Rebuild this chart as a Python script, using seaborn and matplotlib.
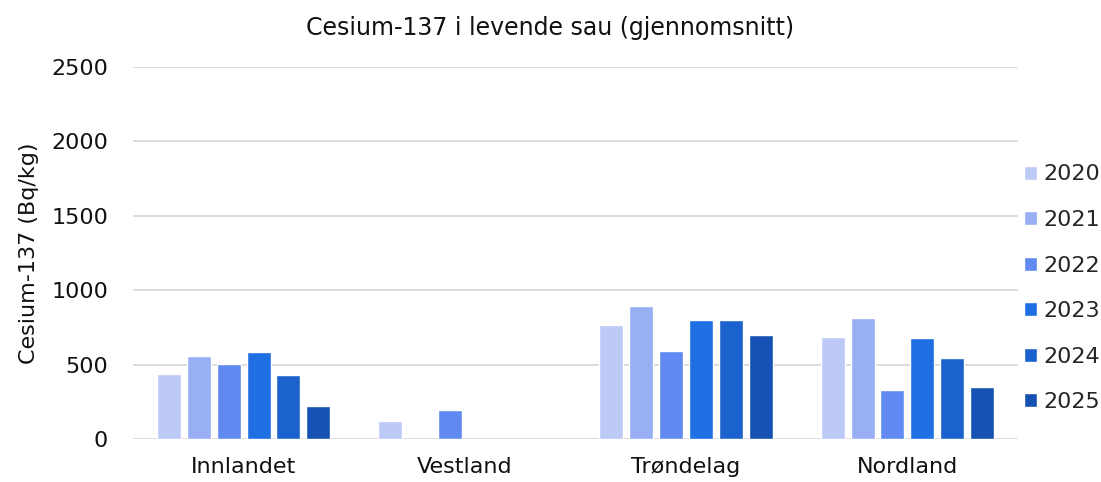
import numpy as np
import pandas as pd
import matplotlib.pyplot as plt
import seaborn as sns

regions = ["Innlandet", "Vestland", "Trøndelag", "Nordland"]
years = ["2020", "2021", "2022", "2023", "2024", "2025"]

# Cs-137 values per year, one value per region (nan = no data)
v2020 = [437, 119, 764, 683]
v2021 = [560, np.nan, 894, 815]
v2022 = [502, 193, 591, 331]
v2023 = [587, np.nan, 800, 681]
v2024 = [432, np.nan, 800, 546]
v2025 = [220, np.nan, 699, 347]

colors = ["#BDC9F7", "#98AEF5", "#608AF1", "#1F6FE3", "#1B62CC", "#1652B3"]


def buildFrame():
    rows = []
    for year, vals in zip(years, [v2020, v2021, v2022, v2023, v2024, v2025]):
        for region, val in zip(regions, vals):
            if not np.isnan(val):
                rows.append({"region": region, "year": year, "value": val})
    return pd.DataFrame(rows)


sns.set_theme(style="white")
plt.rcParams["font.family"] = ["DejaVu Sans"]

df = buildFrame()
fig = plt.figure(figsize=(11.01, 4.82), dpi=100)
ax = fig.add_axes([0.1208, 0.0892, 0.8038, 0.7718])

sns.barplot(
    data=df, x="region", y="value", hue="year",
    order=regions, hue_order=years, palette=colors,
    width=0.81, gap=0.2, ax=ax, errorbar=None, saturation=1,
)

ax.set_xlim(-0.5, 3.5)
ax.set_ylim(0, 2500)
ax.set_yticks(range(0, 2501, 500))
ax.yaxis.grid(True, color="#D9D9D9", linewidth=1.3)
ax.set_axisbelow(True)
for s in ax.spines.values():
    s.set_visible(False)
ax.tick_params(axis="both", length=0, labelsize=16, colors="#111111")
ax.tick_params(axis="y", pad=18)
ax.tick_params(axis="x", pad=13)
ax.set_xlabel("")
ax.set_ylabel("Cesium-137 (Bq/kg)", fontsize=16, color="#111111", labelpad=9)
fig.suptitle("Cesium-137 i levende sau (gjennomsnitt)", x=0.5, y=0.967,
             fontsize=17, color="#111111")

ax.legend(
    loc="center left", bbox_to_anchor=(1.0, 0.405), frameon=False,
    fontsize=16, handlelength=0.6, handleheight=0.6, handletextpad=0.3,
    labelspacing=1.15, borderaxespad=0.0, borderpad=0.25,
)

fig.savefig("out.png", dpi=100)
